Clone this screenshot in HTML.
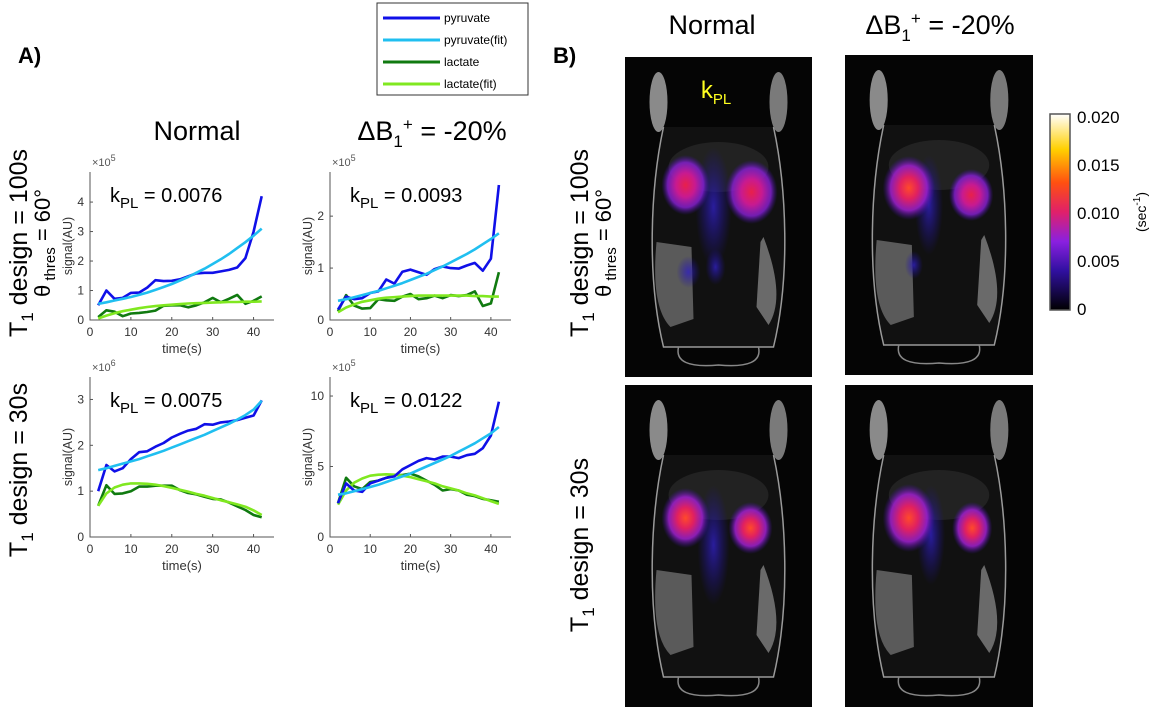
<!DOCTYPE html>
<html><head><meta charset="utf-8">
<style>
body{margin:0;background:#fff;width:1155px;height:711px;overflow:hidden;position:relative;font-family:"Liberation Sans",sans-serif;}
svg{position:absolute;left:0;top:0}
</style></head>
<body>
<svg id="fig" width="1155" height="711" viewBox="0 0 1155 711">
<defs>
<radialGradient id="hot" cx="50%" cy="50%" r="50%">
<stop offset="0" stop-color="#e8204a"/><stop offset="0.4" stop-color="#c81a90"/><stop offset="0.75" stop-color="#8a20d8" stop-opacity="0.8"/><stop offset="1" stop-color="#4010b0" stop-opacity="0"/>
</radialGradient>
<radialGradient id="hot2" cx="50%" cy="50%" r="50%">
<stop offset="0" stop-color="#ff4a2a"/><stop offset="0.35" stop-color="#e02060"/><stop offset="0.7" stop-color="#a020d0" stop-opacity="0.85"/><stop offset="1" stop-color="#4010b0" stop-opacity="0"/>
</radialGradient>
<radialGradient id="blu" cx="50%" cy="50%" r="50%">
<stop offset="0" stop-color="#3020c0" stop-opacity="0.8"/><stop offset="1" stop-color="#2010a0" stop-opacity="0"/>
</radialGradient>
<linearGradient id="cbar" x1="0" y1="1" x2="0" y2="0">
<stop offset="0" stop-color="#000"/><stop offset="0.2" stop-color="#3010a0"/><stop offset="0.35" stop-color="#8a20e0"/><stop offset="0.5" stop-color="#e0206a"/><stop offset="0.65" stop-color="#ff5010"/><stop offset="0.82" stop-color="#ffd000"/><stop offset="1" stop-color="#fff"/>
</linearGradient>
</defs>
</svg>
<script>
// ----- chart data (time in s) -----
const times = [2,4,6,8,10,12,14,16,18,20,22,24,26,28,30,32,34,36,38,40,42];
const xTicks = [0,10,20,30,40];
// Panel 1: T1=100s, Normal (x1e5)
const p1Pyr = [0.5,1.0,0.72,0.75,0.92,0.93,1.1,1.35,1.32,1.33,1.38,1.48,1.58,1.6,1.6,1.65,1.7,1.78,2.1,3.0,4.2];
const p1PyrFit = [0.55,0.6,0.66,0.72,0.78,0.85,0.93,1.02,1.12,1.22,1.34,1.46,1.6,1.74,1.9,2.06,2.24,2.44,2.64,2.86,3.1];
const p1Lac = [0.1,0.33,0.28,0.13,0.22,0.24,0.27,0.32,0.48,0.5,0.5,0.43,0.5,0.6,0.75,0.6,0.72,0.85,0.55,0.65,0.8];
const p1LacFit = [0.05,0.15,0.23,0.3,0.35,0.4,0.44,0.47,0.5,0.52,0.54,0.56,0.57,0.58,0.59,0.6,0.61,0.61,0.62,0.62,0.63];
const p1YTicks = [0,1,2,3,4];
// Panel 2: T1=100s, dB1=-20% (x1e5)
const p2Pyr = [0.2,0.45,0.4,0.42,0.52,0.55,0.78,0.7,0.93,0.97,0.92,0.87,0.98,1.03,1.0,0.99,1.05,1.1,0.95,1.18,2.6];
const p2PyrFit = [0.37,0.4,0.44,0.48,0.52,0.56,0.61,0.66,0.71,0.77,0.83,0.89,0.96,1.03,1.11,1.19,1.27,1.36,1.46,1.56,1.67];
const p2Lac = [0.17,0.48,0.28,0.22,0.23,0.4,0.38,0.37,0.45,0.5,0.4,0.42,0.47,0.42,0.48,0.46,0.48,0.55,0.27,0.32,0.92];
const p2LacFit = [0.15,0.24,0.3,0.35,0.38,0.41,0.43,0.44,0.45,0.46,0.47,0.47,0.47,0.47,0.47,0.47,0.47,0.46,0.46,0.45,0.45];
const p2YTicks = [0,1,2];
// Panel 3: T1=30s, Normal (x1e6)
const p3Pyr = [1.0,1.57,1.43,1.5,1.7,1.85,1.87,1.97,2.05,2.17,2.25,2.32,2.36,2.46,2.45,2.5,2.52,2.55,2.6,2.65,2.98];
const p3PyrFit = [1.46,1.5,1.55,1.6,1.65,1.7,1.76,1.82,1.88,1.95,2.02,2.09,2.16,2.23,2.31,2.39,2.47,2.56,2.66,2.78,2.97];
const p3Lac = [0.68,1.13,0.94,0.95,1.0,1.1,1.1,1.12,1.12,1.12,1.02,0.96,0.93,0.88,0.83,0.82,0.75,0.67,0.59,0.48,0.43];
const p3LacFit = [0.68,0.95,1.08,1.14,1.17,1.17,1.16,1.14,1.11,1.07,1.03,0.99,0.94,0.9,0.85,0.8,0.76,0.71,0.66,0.58,0.48];
const p3YTicks = [0,1,2,3];
// Panel 4: T1=30s, dB1=-20% (x1e5)
const p4Pyr = [2.4,3.8,3.3,3.2,3.8,4.0,4.2,4.3,4.8,5.1,5.4,5.6,5.5,5.7,5.7,5.6,5.8,5.9,6.3,7.2,9.6];
const p4PyrFit = [3.0,3.1,3.25,3.4,3.55,3.7,3.9,4.1,4.3,4.5,4.75,5.0,5.25,5.5,5.75,6.05,6.35,6.65,7.0,7.35,7.8];
const p4Lac = [2.4,4.2,3.6,3.4,3.9,4.0,4.2,4.4,4.4,4.5,4.3,4.0,3.7,3.3,3.4,3.3,3.0,2.9,2.7,2.6,2.5];
const p4LacFit = [2.3,3.3,3.85,4.15,4.35,4.42,4.45,4.42,4.35,4.25,4.1,3.95,3.8,3.6,3.45,3.3,3.1,2.95,2.75,2.55,2.35];
const p4YTicks = [0,5,10];
const seriesColors = ['#1010e8','#20bff0','#107a10','#80e820'];
const seriesNames = ['pyruvate','pyruvate(fit)','lactate','lactate(fit)'];

const NS='http://www.w3.org/2000/svg';
const svg=document.getElementById('fig');
function mk(tag,attrs,parent){const e=document.createElementNS(NS,tag);for(const k in attrs)e.setAttribute(k,attrs[k]);(parent||svg).appendChild(e);return e;}
function txt(x,y,s,attrs,parent){const e=mk('text',Object.assign({x:x,y:y,'font-family':'Liberation Sans, sans-serif'},attrs),parent);e.innerHTML=s;return e;}

function panel(name,cfg){
  const g=mk('g',{});
  
  
  const xs=v=>cfg.x0+(v-0)/45*(cfg.x1-cfg.x0);
  const ys=v=>cfg.yb-(v/cfg.ymax)*(cfg.yb-cfg.yt);
  const ax=mk('path',{d:`M${cfg.x0},${cfg.yt}V${cfg.yb}H${cfg.x1}`,stroke:'#555',fill:'none','stroke-width':1},g);
  
  
  xTicks.forEach(t=>{
    mk('line',{x1:xs(t),x2:xs(t),y1:cfg.yb,y2:cfg.yb-3,stroke:'#555'},g);
    const l=txt(xs(t),cfg.yb+16,t,{'font-size':12,'text-anchor':'middle',fill:'#333'},g);
    
    
  });
  cfg.yticks.forEach(t=>{
    mk('line',{x1:cfg.x0,x2:cfg.x0+3,y1:ys(t),y2:ys(t),stroke:'#555'},g);
    const l=txt(cfg.x0-6,ys(t)+4,t,{'font-size':12,'text-anchor':'end',fill:'#333'},g);
    
    
  });
  const xl=txt((cfg.x0+cfg.x1)/2,cfg.yb+33,'time(s)',{'font-size':13,'text-anchor':'middle',fill:'#333'},g);
  
  
  const yl=txt(0,0,'signal(AU)',{'font-size':12.5,'text-anchor':'middle',fill:'#333',transform:`translate(${cfg.x0-18},${(cfg.yt+cfg.yb)/2}) rotate(-90)`},g);
  
  
  const ex=txt(cfg.x0+2,cfg.yt-6,'×10<tspan font-size="9" dy="-5">'+cfg.exp+'</tspan>',{'font-size':11,fill:'#555'},g);
  
  
  const kl=txt(cfg.x0+20,cfg.yt+30,'k<tspan font-size="15" dy="6">PL</tspan><tspan dy="-6"> = '+cfg.k+'</tspan>',{'font-size':20,fill:'#000'},g);
  
  
  const order=[2,3,0,1];
  order.forEach(i=>{
    const d=cfg.series[i].map((v,j)=>(j?'L':'M')+xs(times[j]).toFixed(1)+','+ys(v).toFixed(1)).join('');
    const p=mk('path',{d:d,stroke:seriesColors[i],fill:'none','stroke-width':2.6,'stroke-linejoin':'round'},g);
    
    
  });
}
panel('plot-t1-100s-normal',{x0:90,x1:274,yt:172,yb:320,ymax:5.02,yticks:p1YTicks,exp:5,k:'0.0076',series:[p1Pyr,p1PyrFit,p1Lac,p1LacFit]});
panel('plot-t1-100s-b1',{x0:330,x1:511,yt:172,yb:320,ymax:2.85,yticks:p2YTicks,exp:5,k:'0.0093',series:[p2Pyr,p2PyrFit,p2Lac,p2LacFit]});
panel('plot-t1-30s-normal',{x0:90,x1:274,yt:377,yb:537,ymax:3.49,yticks:p3YTicks,exp:6,k:'0.0075',series:[p3Pyr,p3PyrFit,p3Lac,p3LacFit]});
panel('plot-t1-30s-b1',{x0:330,x1:511,yt:377,yb:537,ymax:11.35,yticks:p4YTicks,exp:5,k:'0.0122',series:[p4Pyr,p4PyrFit,p4Lac,p4LacFit]});

// legend
const lg=mk('g',{});


mk('rect',{x:377,y:3,width:151,height:92,fill:'#fff',stroke:'#333'},lg);
seriesNames.forEach((n,i)=>{
  const y=18+i*22;
  const e=mk('g',{},lg);
  
  
  mk('line',{x1:383,x2:440,y1:y,y2:y,stroke:seriesColors[i],'stroke-width':3},e);
  txt(444,y+4,n,{'font-size':12,fill:'#000'},e);
});

function label(x,y,html,attrs,name){const t=txt(x,y,html,attrs);return t;}
label(18,63,'A)',{'font-size':22,'font-weight':'bold'},'panel-a-label');
label(553,63,'B)',{'font-size':22,'font-weight':'bold'},'panel-b-label');
label(197,140,'Normal',{'font-size':27,'text-anchor':'middle'},'col-title-normal');
label(432,140,'ΔB<tspan font-size="17" dy="7">1</tspan><tspan font-size="17" dy="-17">+</tspan><tspan dy="10"> = -20%</tspan>',{'font-size':27,'text-anchor':'middle'},'col-title-b1');
label(712,34,'Normal',{'font-size':27,'text-anchor':'middle'},'col-title-normal-b');
label(940,34,'ΔB<tspan font-size="17" dy="7">1</tspan><tspan font-size="17" dy="-17">+</tspan><tspan dy="10"> = -20%</tspan>',{'font-size':27,'text-anchor':'middle'},'col-title-b1-b');
function rot(x,y,html,fs,name){label(0,0,html,{'font-size':fs,'text-anchor':'middle',transform:`translate(${x},${y}) rotate(-90)`},name);}
const t100='T<tspan font-size="17" dy="6">1</tspan><tspan dy="-6"> design = 100s</tspan>';
const t30='T<tspan font-size="17" dy="6">1</tspan><tspan dy="-6"> design = 30s</tspan>';
const th='θ<tspan font-size="15" dy="5"> thres</tspan><tspan dy="-5"> = 60°</tspan>';
rot(27,243,t100,25,'row-label-100s');rot(50,243,th,22,'row-label-theta');
rot(27,470,t30,25,'row-label-30s');
rot(588,243,t100,25,'row-label-100s-b');rot(611,243,th,22,'row-label-theta-b');
rot(588,545,t30,25,'row-label-30s-b');

// MRI images
function mri(name,x,y,w,h,blobs){
  const g=mk('g',{});
  
  
  mk('rect',{x:x,y:y,width:w,height:h,fill:'#050505'},g);
  const cx=x+w/2, s=w/187;
  mk('path',{d:`M${cx-55*s},${y+70} C${cx-68*s},${y+130} ${cx-72*s},${y+220} ${cx-55*s},${y+h-30} L${cx+55*s},${y+h-30} C${cx+72*s},${y+220} ${cx+68*s},${y+130} ${cx+55*s},${y+70}`,fill:'#111',stroke:'#9a9a9a','stroke-width':1.5},g);
  mk('path',{d:`M${cx-40*s},${y+h-30} Q${cx-45*s},${y+h-8} ${cx},${y+h-12} Q${cx+45*s},${y+h-8} ${cx+40*s},${y+h-30}`,fill:'none',stroke:'#888','stroke-width':1.5},g);
  mk('ellipse',{cx:cx-60*s,cy:y+45,rx:9*s,ry:30,fill:'#8a8a8a'},g);
  mk('ellipse',{cx:cx+60*s,cy:y+45,rx:9*s,ry:30,fill:'#7a7a7a'},g);
  mk('path',{d:`M${cx-62*s},${y+185} Q${cx-68*s},${y+250} ${cx-48*s},${y+270} L${cx-25*s},${y+262} L${cx-27*s},${y+190}Z`,fill:'#5a5a5a'},g);
  mk('path',{d:`M${cx+45*s},${y+180} Q${cx+68*s},${y+240} ${cx+50*s},${y+268} L${cx+38*s},${y+250} L${cx+42*s},${y+185}Z`,fill:'#6a6a6a'},g);
  mk('ellipse',{cx:cx,cy:y+110,rx:50*s,ry:25,fill:'#222'},g);
  blobs.forEach(b=>mk('ellipse',{cx:cx+b[0]*s,cy:y+b[1],rx:b[2]*s,ry:b[3],fill:`url(#${b[4]})`},g));
}
mri('mri-t1-100s-normal',625,57,187,320,[[-5,150,18,60,'blu'],[-33,128,24,30,'hot'],[33,135,26,32,'hot'],[-30,215,12,16,'blu'],[-3,210,10,18,'blu']]);
mri('mri-t1-100s-b1',845,55,188,320,[[-10,150,14,50,'blu'],[-30,133,26,32,'hot2'],[32,140,22,26,'hot'],[-25,210,9,14,'blu']]);
mri('mri-t1-30s-normal',625,385,187,322,[[-5,160,16,60,'blu'],[-33,133,24,30,'hot2'],[32,143,22,26,'hot2']]);
mri('mri-t1-30s-b1',845,385,188,322,[[-8,150,14,50,'blu'],[-30,133,26,34,'hot2'],[33,143,20,26,'hot2']]);
label(716,98,'k<tspan font-size="15" dy="6">PL</tspan>',{'font-size':24,'text-anchor':'middle',fill:'#ffff20'},'kpl-map-label');

// colorbar
const cbTicks=['0','0.005','0.010','0.015','0.020'];
const cb=mk('g',{});


mk('rect',{x:1050,y:114,width:20,height:196,fill:'url(#cbar)',stroke:'#555','stroke-width':1.5},cb);
cbTicks.forEach((t,i)=>{txt(1077,315-i*48,t,{'font-size':17,fill:'#000'},cb);});
label(0,0,'(sec<tspan font-size="10" dy="-6">-1</tspan><tspan dy="6">)</tspan>',{'font-size':14,'text-anchor':'middle',transform:'translate(1146,212) rotate(-90)'},'colorbar-unit');
</script>
</body></html>
